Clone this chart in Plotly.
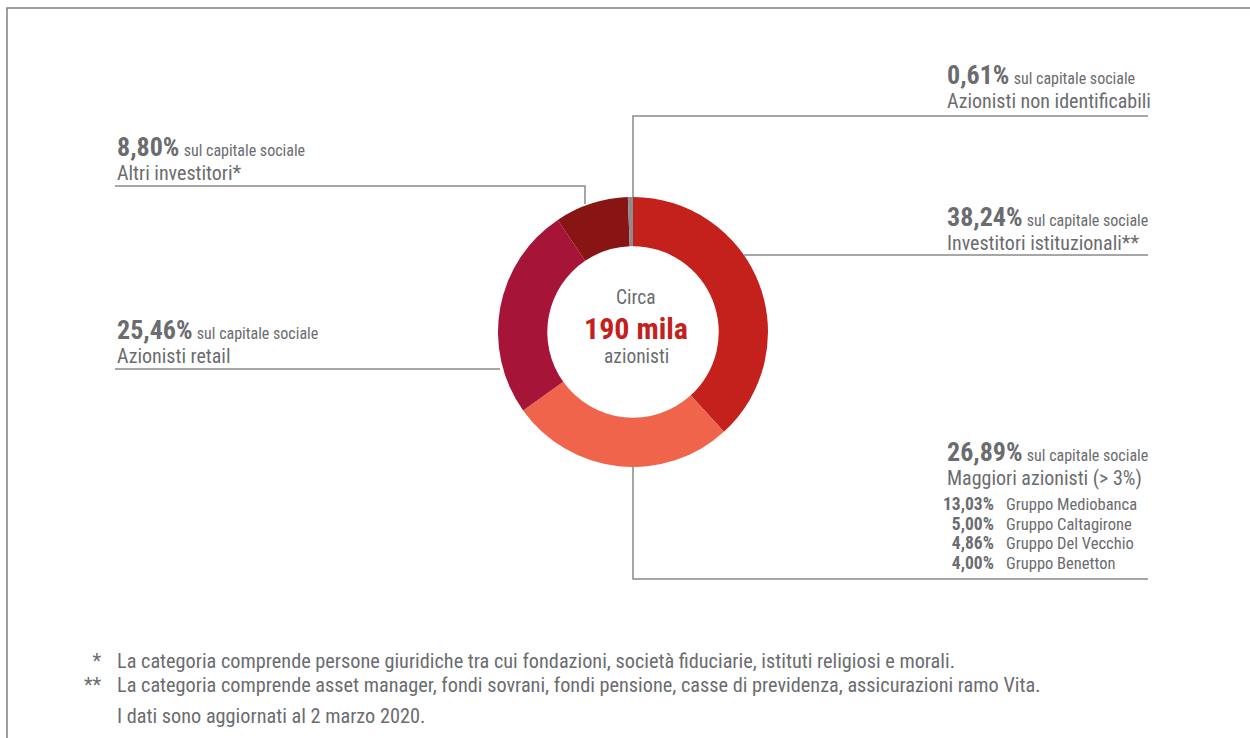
import plotly.graph_objects as go

# ---------------- data ----------------
categories = ["Investitori istituzionali**", "Maggiori azionisti (> 3%)",
              "Azionisti retail", "Altri investitori*", "Azionisti non identificabili"]
shares = [38.24, 26.89, 25.46, 8.80, 0.61]
slice_colors = ["#C4211C", "#EF644B", "#A61538", "#881414", "#8C8C8C"]

major_holders = ["Gruppo Mediobanca", "Gruppo Caltagirone", "Gruppo Del Vecchio", "Gruppo Benetton"]
major_shares = [13.03, 5.00, 4.86, 4.00]

center_lines = ["Circa", "190 mila", "azionisti"]
footnote_marks = ["*", "**"]
footnote_texts = [
    "La categoria comprende persone giuridiche tra cui fondazioni, società fiduciarie, istituti religiosi e morali.",
    "La categoria comprende asset manager, fondi sovrani, fondi pensione, casse di previdenza, assicurazioni ramo Vita.",
]
update_note = "I dati sono aggiornati al 2 marzo 2020."
suffix = "sul capitale sociale"

W, H = 1250, 738
FONT = "Liberation Sans Narrow, Roboto Condensed, Arial Narrow, sans-serif"
GREY = "#6B6C6F"
LINE = "#8A8A8A"
RED = "#C4211C"


def pct(v):
    return f"{v:.2f}".replace(".", ",") + "%"


# ---------------- layout helpers ----------------
# label anchor (x, y centre of the two-line block) per category
label_pos = {
    "Investitori istituzionali**": (945, 228),
    "Maggiori azionisti (> 3%)": (945, 463),
    "Azionisti retail": (115, 341),
    "Altri investitori*": (115, 158),
    "Azionisti non identificabili": (945, 86),
}
leader_paths = {
    "Investitori istituzionali**": "M1148,255 L744,255",
    "Maggiori azionisti (> 3%)": "M1148,579 L633,579 L633,467",
    "Azionisti retail": "M115,369 L500,369",
    "Altri investitori*": "M115,186 L585,186 L585,204",
    "Azionisti non identificabili": "M1148,116 L633,116 L633,197",
}

cx, cy, r = 633, 332, 135

fig = go.Figure()
fig.add_trace(go.Pie(
    labels=categories, values=shares, sort=False, direction="clockwise", rotation=0,
    hole=0.635, marker=dict(colors=slice_colors, line=dict(width=0)),
    textinfo="none", hoverinfo="label+percent", showlegend=False,
    domain=dict(x=[(cx - r) / W, (cx + r) / W], y=[(H - cy - r) / H, (H - cy + r) / H]),
))
# invisible scatter to create the pixel coordinate axes
fig.add_trace(go.Scatter(x=[0, W], y=[0, H], mode="markers",
                         marker=dict(opacity=0), hoverinfo="skip", showlegend=False))

annotations = []
shapes = []
for cat, val in zip(categories, shares):
    x, y = label_pos[cat]
    annotations.append(dict(
        x=x, y=y, xref="x", yref="y", xanchor="left", yanchor="middle", showarrow=False, align="left",
        text=(f"<span style='font-size:26px'><b>{pct(val)}</b></span> "
              f"<span style='font-size:16px'>{suffix}</span><br>"
              f"<span style='font-size:20px'>{cat}</span>"),
        font=dict(family=FONT, size=18.5, color=GREY),
    ))
    shapes.append(dict(type="path", path=leader_paths[cat], xref="x", yref="y",
                       line=dict(color=LINE, width=1.5)))

# list of major shareholders (two aligned columns)
annotations.append(dict(
    x=996, y=533.5, xref="x", yref="y", xanchor="right", yanchor="middle", showarrow=False, align="right",
    text="<br>".join(f"<span style='font-size:17.5px'><b>{pct(v)}</b></span>" for v in major_shares),
    font=dict(family=FONT, size=15, color=GREY),
))
annotations.append(dict(
    x=1004, y=533.5, xref="x", yref="y", xanchor="left", yanchor="middle", showarrow=False, align="left",
    text="<br>".join(f"<span style='font-size:16.5px'>{n}</span>" for n in major_holders),
    font=dict(family=FONT, size=15, color=GREY),
))

# center text
center_y = [297, 328, 356]
center_size = [19.5, 30, 19.5]
center_color = [GREY, RED, GREY]
for t, yy, s, c in zip(center_lines, center_y, center_size, center_color):
    annotations.append(dict(
        x=cx + 3, y=yy, xref="x", yref="y", xanchor="center", yanchor="middle", showarrow=False,
        text=f"<b>{t}</b>" if c == RED else t,
        font=dict(family=FONT, size=s, color=c),
    ))

# footnotes
annotations.append(dict(
    x=104, y=673, xref="x", yref="y", xanchor="right", yanchor="middle", showarrow=False, align="right",
    text="<br>".join(f"<span style='font-size:20px'>{m}</span>" for m in footnote_marks),
    font=dict(family=FONT, size=18.5, color=GREY),
))
annotations.append(dict(
    x=115, y=673, xref="x", yref="y", xanchor="left", yanchor="middle", showarrow=False, align="left",
    text="<br>".join(f"<span style='font-size:20.3px'>{t}</span>" for t in footnote_texts),
    font=dict(family=FONT, size=18.5, color=GREY),
))
annotations.append(dict(
    x=115, y=716, xref="x", yref="y", xanchor="left", yanchor="middle", showarrow=False,
    text=update_note, font=dict(family=FONT, size=20.3, color=GREY),
))

# frame
shapes.append(dict(type="path", path=f"M7,{H} L7,8 L{W},8", xref="x", yref="y",
                   line=dict(color="#7F7F7F", width=1.5)))

fig.update_layout(
    width=W, height=H, margin=dict(l=0, r=0, t=0, b=0),
    paper_bgcolor="white", plot_bgcolor="white",
    xaxis=dict(range=[0, W], visible=False, fixedrange=True),
    yaxis=dict(range=[H, 0], visible=False, fixedrange=True),
    annotations=annotations, shapes=shapes,
)
fig.write_html("out.html", config={"displayModeBar": False},
               post_script="document.body.style.margin='0px';")
